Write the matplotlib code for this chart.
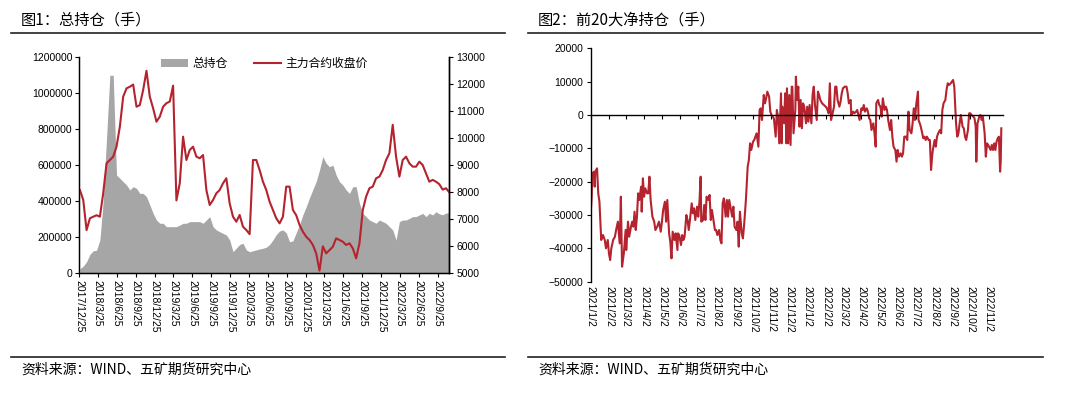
import numpy as np
import pandas as pd
import matplotlib
matplotlib.use('Agg')
import matplotlib.pyplot as plt
import matplotlib.dates as mdates
from matplotlib.lines import Line2D
from matplotlib.patches import Patch
from matplotlib.ticker import StrMethodFormatter

plt.rcParams['font.family'] = ['Liberation Sans', 'Noto Sans CJK SC', 'DejaVu Sans']
cjk = ['Noto Sans CJK SC', 'DejaVu Sans']

# ---- figure 1: total open interest + main contract close (sampled roughly every two weeks)
oi_values = [25000, 40000, 64000, 105000, 125000, 128000, 185000, 400000, 750000, 1100000,
             1100000, 546000, 528000, 509000, 491000, 463000, 481000, 472000, 444000, 444000,
             426000, 380000, 333000, 296000, 278000, 278000, 259000, 259000, 259000, 259000,
             268000, 278000, 278000, 287000, 287000, 287000, 287000, 278000, 296000, 315000,
             259000, 241000, 231000, 222000, 213000, 185000, 120000, 140000, 160000, 167000,
             130000, 120000, 125000, 130000, 135000, 139000, 145000, 160000, 185000, 215000,
             235000, 241000, 225000, 175000, 180000, 225000, 270000, 325000, 370000, 420000,
             465000, 510000, 574000, 648000, 611000, 592000, 601000, 546000, 509000, 491000,
             463000, 444000, 481000, 481000, 389000, 333000, 315000, 296000, 287000, 278000,
             296000, 287000, 278000, 259000, 241000, 185000, 287000, 296000, 296000, 305000,
             315000, 315000, 324000, 333000, 315000, 333000, 324000, 342000, 330000, 325000,
             335000, 335000]
price_values = [8085, 7715, 6600, 7037, 7096, 7150, 7096, 7963, 9074, 9196,
                9320, 9690, 10430, 11540, 11850, 11910, 11990, 11170, 11230, 11790,
                12500, 11540, 11110, 10615, 10800, 11170, 11300, 11360, 11950, 7700,
                8333, 10060, 9196, 9567, 9690, 9320, 9260, 9380, 8085, 7530,
                7715, 7963, 8085, 8333, 8520, 7590, 7096, 6910, 7160, 6726,
                6604, 6450, 9196, 9196, 8826, 8393, 8085, 7652, 7345, 7037,
                6850, 7096, 8210, 8210, 7345, 7150, 6790, 6540, 6355, 6233,
                6050, 5740, 5100, 6000, 5740, 5860, 5985, 6296, 6233, 6170,
                6050, 6110, 5925, 5555, 6110, 7345, 7840, 8150, 8210, 8520,
                8580, 8826, 9196, 9445, 10500, 9320, 8580, 9196, 9320, 9074,
                8950, 8950, 9135, 9010, 8700, 8393, 8460, 8393, 8300, 8100,
                8150, 8000]
oi_dates = pd.date_range('2017-12-28', '2022-11-21', periods=len(oi_values))
left_tick_labels = ['2017/12/25', '2018/3/25', '2018/6/25', '2018/9/25', '2018/12/25',
                    '2019/3/25', '2019/6/25', '2019/9/25', '2019/12/25', '2020/3/25',
                    '2020/6/25', '2020/9/25', '2020/12/25', '2021/3/25', '2021/6/25',
                    '2021/9/25', '2021/12/25', '2022/3/25', '2022/6/25', '2022/9/25']

# ---- figure 2: top-20 net position, (day offset from 2021/1/2, value)
net_days = [0, 2, 3, 6, 7, 8, 11, 13, 15, 17, 18, 21, 24, 26, 29, 31, 33, 35, 38, 41,
            43, 46, 49, 51, 53, 56, 59, 60, 63, 65, 68, 70, 72, 74, 76, 78, 80, 82, 85, 86,
            88, 90, 92, 95, 97, 99, 101, 104, 107, 109, 112, 115, 118, 120, 122, 125, 127, 129, 132, 134,
            136, 138, 141, 143, 146, 147, 149, 152, 154, 156, 158, 161, 163, 165, 167, 170, 172, 174, 176, 179,
            181, 183, 185, 186, 189, 191, 193, 195, 198, 200, 202, 204, 207, 209, 211, 213, 216, 218, 220, 222,
            224, 227, 229, 231, 233, 236, 238, 240, 242, 245, 247, 249, 251, 254, 256, 258, 261, 264, 266, 268,
            270, 273, 275, 277, 279, 282, 284, 286, 288, 291, 293, 295, 297, 300, 302, 304, 306, 308, 311, 313,
            315, 317, 320, 321, 322, 325, 327, 329, 330, 332, 334, 336, 338, 339, 341, 344, 345, 347, 349, 351,
            353, 355, 357, 359, 362, 364, 366, 368, 371, 373, 375, 377, 380, 382, 384, 386, 389, 392, 395, 397,
            400, 402, 404, 406, 409, 411, 413, 415, 418, 420, 422, 424, 427, 430, 432, 434, 437, 438, 441, 443,
            446, 448, 450, 452, 455, 457, 459, 461, 464, 466, 468, 470, 472, 475, 477, 479, 480, 483, 485, 487,
            489, 491, 494, 496, 498, 500, 503, 505, 507, 509, 512, 514, 516, 518, 521, 523, 525, 527, 530, 532,
            534, 536, 539, 541, 543, 545, 547, 550, 551, 554, 556, 559, 561, 563, 565, 568, 570, 572, 574, 575,
            578, 580, 582, 584, 587, 589, 591, 593, 596, 598, 600, 602, 605, 607, 609, 611, 614, 616, 618, 620,
            622, 625, 627, 629, 631, 634, 636, 638, 640, 643, 645, 647, 648, 650, 653, 655, 657, 659, 662, 664,
            666, 668, 672, 674, 676, 678, 680, 682, 684, 686, 688, 689, 690]
net_values = [-30500, -24500, -17500, -17000, -21500, -17000, -16000, -23500, -26000, -33500,
              -37500, -36000, -37500, -40000, -37500, -41500, -43500, -40000, -37500, -36500,
              -34500, -32000, -38500, -24500, -45500, -41500, -34500, -40500, -32000, -36500,
              -33500, -32000, -33500, -29000, -34500, -30500, -23500, -25500, -21500, -29000,
              -19000, -24500, -22000, -23500, -23500, -18500, -25500, -30500, -32000, -34500,
              -33500, -32000, -35000, -32000, -28500, -26000, -32000, -25500, -35500, -38000,
              -43000, -35000, -37500, -35500, -40500, -35500, -36000, -39000, -36000, -37500,
              -36500, -30000, -31500, -34500, -31500, -26500, -29500, -28000, -31500, -27500,
              -30500, -26000, -18500, -32000, -31500, -27000, -31500, -24500, -25500, -24000,
              -31500, -28500, -32000, -34500, -34500, -36000, -34500, -37500, -38500, -26500,
              -25000, -30500, -25500, -30500, -25500, -28500, -30500, -27500, -33500, -34500,
              -32000, -39500, -29000, -35500, -37000, -33000, -25500, -15500, -13500, -8500,
              -10500, -8000, -7500, -6500, -5500, -9500, 1500, 2000, -1500, 6000,
              3500, 5000, 7000, 5500, 1000, 0, -500, -1000, -6500, 1500,
              -500, -8500, 6500, -8500, 2500, -2500, 6500, -8500, 8000, -8500,
              6000, -9000, 8500, 8500, -5500, 1500, 11500, 4500, 8500, -3500,
              4500, -4000, 3500, 2500, -2500, 2500, -2000, 3000, -2500, 6000,
              8500, 3000, -1500, 7000, 6000, 4500, 3500, 3000, 2500, 2000,
              500, 9500, -1500, 0, 2500, 8500, 8500, 4500, 2500, 4000,
              6500, 8000, 8500, 8500, 6500, 3500, 4500, 0, 1000, 500,
              1000, 1500, 0, -1500, 2000, 1500, 3000, 1000, 2000, 1000,
              -1000, -1500, -4500, -2500, -5500, -9500, 3500, 4500, 3000, 2500,
              -500, 5000, 1500, 2500, 1500, -1500, -4500, -1500, -6500, -9500,
              -10500, -14000, -10500, -12500, -11500, -12500, -11500, -6500, -6500, -7500,
              1000, -4500, -5500, -2500, 2000, -1500, 3000, 7000, -1500, -3000,
              -4500, -7000, -6500, -7500, -6500, -7500, -7500, -16500, -12000, -10500,
              -7500, -9500, -6500, -5500, -4500, -5500, 1500, 3500, 4500, 7500,
              9500, 9000, 9500, 10000, 10500, 8500, -2500, -6500, -5500, -2500,
              0, -3500, -4000, -6500, -7500, -4500, 500, 500, 0, -500,
              -1000, -3500, -14000, -2500, -500, 0, -1500, -500, -5500, -12500,
              -8500, -9000, -10500, -9000, -10500, -8500, -10500, -8000, -7000, -6500,
              -17000, -14000, -4000]
net_start = pd.Timestamp('2021-01-02')
right_tick_labels = ['2021/1/2', '2021/2/2', '2021/3/2', '2021/4/2', '2021/5/2', '2021/6/2',
                     '2021/7/2', '2021/8/2', '2021/9/2', '2021/10/2', '2021/11/2', '2021/12/2',
                     '2022/1/2', '2022/2/2', '2022/3/2', '2022/4/2', '2022/5/2', '2022/6/2',
                     '2022/7/2', '2022/8/2', '2022/9/2', '2022/10/2', '2022/11/2']

RED = '#B4232E'
GRAY = '#A6A6A6'
tick_fs = 7.5

fig = plt.figure(figsize=(10.8, 3.95), dpi=100)

# ---------------- left panel
ax = fig.add_axes([79.3 / 1080, 1 - 273.3 / 395, 370 / 1080, 216 / 395])
ax.fill_between(oi_dates, oi_values, 0, color=GRAY, lw=0)
ax.set_ylim(0, 1200000)
ax.set_yticks(np.arange(0, 1200001, 200000))
ax.yaxis.set_major_formatter(StrMethodFormatter('{x:.0f}'))
ax.set_xlim(pd.Timestamp('2017-12-25'), oi_dates[-1])
left_ticks = pd.to_datetime(left_tick_labels, format='%Y/%m/%d')
ax.set_xticks(left_ticks)
ax.set_xticklabels(left_tick_labels, rotation=-90, fontsize=tick_fs)
ax.tick_params(axis='both', direction='out', length=3, width=0.8, labelsize=tick_fs, pad=2)
ax.spines['top'].set_visible(False)
for s in ['left', 'bottom', 'right']:
    ax.spines[s].set_linewidth(1.0)

ax2 = ax.twinx()
ax2.plot(oi_dates, price_values, color=RED, lw=1.5)
ax2.set_ylim(5000, 13000)
ax2.set_yticks(np.arange(5000, 13001, 1000))
ax2.tick_params(axis='y', direction='out', length=3, width=0.8, labelsize=tick_fs, pad=2)
ax2.spines['top'].set_visible(False)
ax2.spines['right'].set_linewidth(1.0)
ax2.set_xlim(ax.get_xlim())

handles = [Patch(facecolor=GRAY, edgecolor='none'), Line2D([], [], color=RED, lw=1.5)]
ax2.legend(handles, ['总持仓', '主力合约收盘价'], loc='center', bbox_to_anchor=(0.5, 0.97),
           ncol=2, frameon=False, prop={'family': cjk, 'size': 8.5},
           handlelength=2.3, handletextpad=0.4, columnspacing=2.2, borderpad=0)

# ---------------- right panel
bx = fig.add_axes([590.5 / 1080, 1 - 281.7 / 395, 412 / 1080, 233.4 / 395])
net_dates = net_start + pd.to_timedelta(net_days, unit='D')
bx.plot(net_dates, net_values, color=RED, lw=1.5)
bx.set_ylim(-50000, 20000)
bx.set_yticks(np.arange(-50000, 20001, 10000))
bx.set_xlim(net_start, net_start + pd.Timedelta(days=692))
right_ticks = pd.to_datetime(right_tick_labels, format='%Y/%m/%d')
bx.set_xticks(right_ticks)
bx.tick_params(axis='x', labelbottom=False, direction='out', length=3, width=0.8)
bx.tick_params(axis='y', direction='out', length=3, width=0.8, labelsize=tick_fs, pad=2)
bx.spines['bottom'].set_position(('data', 0))
bx.spines['top'].set_visible(False)
bx.spines['right'].set_visible(False)
bx.spines['left'].set_linewidth(1.0)
bx.spines['bottom'].set_linewidth(1.0)

sec = bx.secondary_xaxis(0.0)
sec.set_xticks(mdates.date2num(right_ticks))
sec.set_xticklabels(right_tick_labels, rotation=-90, fontsize=tick_fs)
sec.tick_params(axis='x', length=0, pad=3)
sec.spines['bottom'].set_visible(False)

# ---------------- titles, rules, sources
title_fs = 11
fig.text(21 / 1080, 1 - 20 / 395, '图1：总持仓（手）', family=cjk, fontsize=title_fs, va='center')
fig.text(538 / 1080, 1 - 20 / 395, '图2：前20大净持仓（手）', family=cjk, fontsize=title_fs, va='center')
for x0, x1 in [(11, 505), (528, 1043)]:
    for yy in (33, 357):
        fig.add_artist(Line2D([x0 / 1080, x1 / 1080], [1 - yy / 395, 1 - yy / 395],
                              color='#222222', lw=1.2))
fig.text(21 / 1080, 1 - 370 / 395, '资料来源：WIND、五矿期货研究中心', family=cjk, fontsize=10, va='center')
fig.text(538 / 1080, 1 - 370 / 395, '资料来源：WIND、五矿期货研究中心', family=cjk, fontsize=10, va='center')

fig.savefig('out.png', dpi=100)
